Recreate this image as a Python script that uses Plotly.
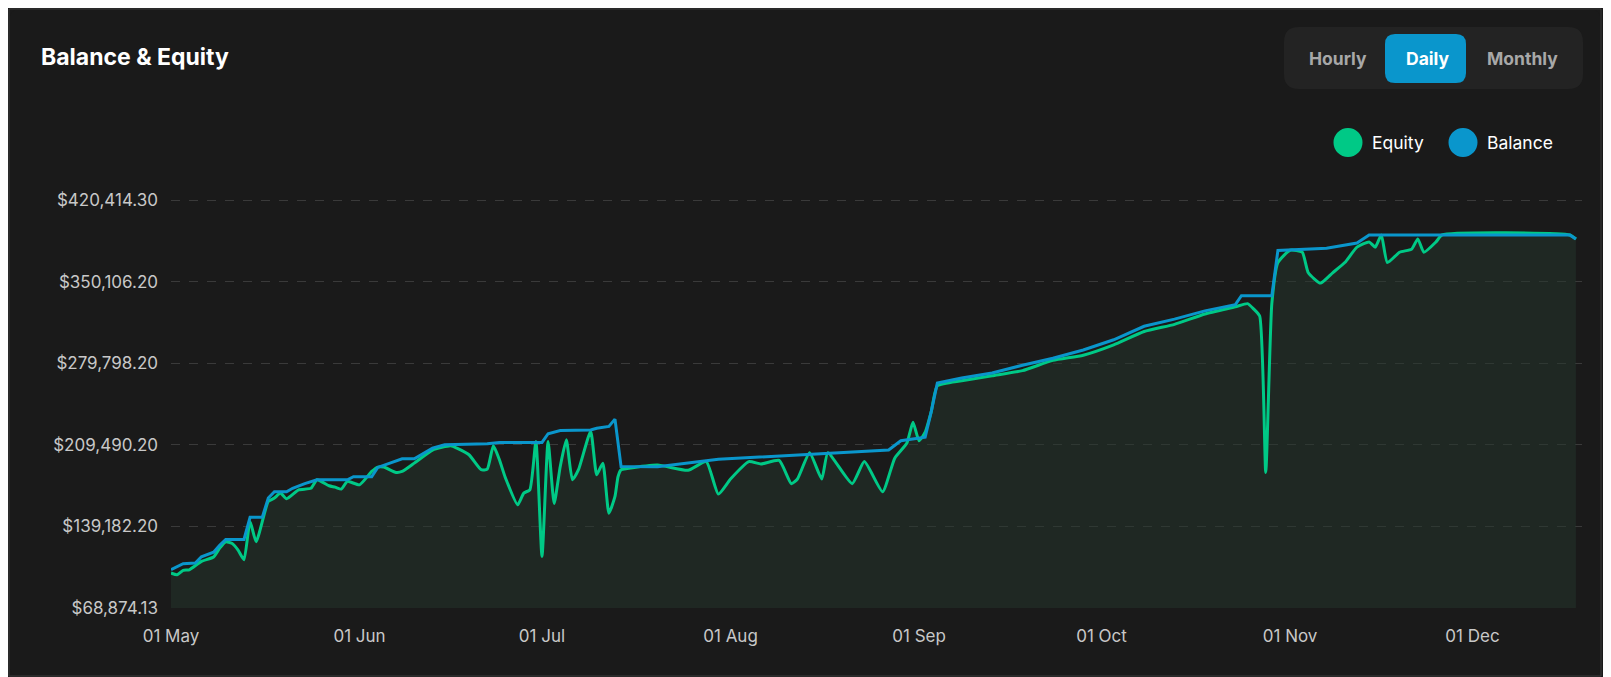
import plotly.graph_objects as go
import pandas as pd

# balance keyframes: day offset from 01 May, value
bal_days = [0, 2, 4, 5, 7, 8, 9, 12, 13, 15, 16, 17, 19, 20, 22, 24, 29, 30, 33, 34, 36, 38, 40, 43, 45,
            52, 54, 61, 62, 64, 69, 70, 72, 73, 74, 80, 90, 100, 110, 118, 120, 124, 125, 126, 130, 135,
            140, 145, 150, 155, 160, 165, 170, 175, 176, 181, 182, 190, 195, 197, 230, 231]
bal_vals = [101900, 107000, 107600, 113000, 117000, 123000, 128000, 128000, 147000, 147000, 163600,
            169000, 169000, 172000, 176000, 179400, 179400, 182000, 182000, 190000, 193700, 197400,
            197400, 206600, 209500, 210300, 211500, 211500, 219000, 221800, 222300, 223800, 225300,
            231600, 190800, 190600, 197000, 200000, 202600, 205000, 213000, 216000, 238000, 262800,
            267000, 271400, 278000, 284000, 291200, 300000, 311600, 317800, 324900, 330200, 338000,
            338000, 377000, 378800, 383300, 390300, 390300, 386800]

eq_days = [0, 1, 2, 3, 5, 7, 8, 9, 10, 11, 12, 13, 14, 16, 17, 18, 19, 21, 23, 24, 26, 27, 28, 29, 31,
           33, 34, 35, 37, 38, 40, 43, 46, 47, 49, 51, 52, 53, 54, 55, 57, 58, 59, 60, 61, 62, 63, 64,
           65, 66, 67, 69, 70, 71, 72, 73, 73.5, 74, 75, 80, 85, 88, 90, 92, 95, 97, 100, 102, 103, 105,
           107, 108, 112, 114, 117, 119, 121, 122, 123, 124, 125, 126, 130, 135, 140, 145, 150, 155,
           160, 165, 170, 175, 177, 178, 179, 180, 181, 182, 184, 186, 187, 189, 191, 193, 195, 197,
           198, 199, 200, 202, 204, 205, 206, 208, 209, 230, 231]
eq_vals = [99000, 97600, 101300, 101800, 109000, 112800, 120500, 126000, 124600, 119000, 110500,
           143500, 126000, 160700, 163600, 167900, 163000, 170700, 172000, 179400, 174200, 173000,
           171300, 178000, 175000, 186500, 190300, 190300, 185700, 186500, 193700, 205000, 208600,
           206600, 200900, 188000, 188500, 208600, 196600, 180800, 157800, 167900, 170700, 212400,
           113300, 212400, 159000, 190800, 213800, 179400, 188000, 221000, 183700, 193700, 150600,
           165000, 182000, 188000, 189000, 192000, 187500, 195000, 167000, 180000, 195000, 193000,
           196000, 176000, 180000, 202600, 180000, 202600, 176000, 195000, 169000, 198000, 211000,
           229000, 213000, 220300, 238000, 260200, 264600, 269000, 273400, 282300, 286700, 295600,
           307100, 313300, 322200, 328400, 331100, 326600, 320400, 185700, 331100, 366500, 377100,
           375400, 357700, 348800, 357700, 366500, 379800, 384300, 379800, 390300, 366500, 375400,
           378100, 386900, 375400, 384300, 390300, 390300, 386800]

y_ticks = [68874.13, 139182.20, 209490.20, 279798.20, 350106.20, 420414.30]
y_labels = ["$68,874.13", "$139,182.20", "$209,490.20", "$279,798.20", "$350,106.20", "$420,414.30"]
x_ticks = ["2024-05-01", "2024-06-01", "2024-07-01", "2024-08-01", "2024-09-01", "2024-10-01",
           "2024-11-01", "2024-12-01"]
x_labels = ["01 May", "01 Jun", "01 Jul", "01 Aug", "01 Sep", "01 Oct", "01 Nov", "01 Dec"]

start = pd.Timestamp("2024-05-01")
bal_x = [start + pd.Timedelta(days=d) for d in bal_days]
eq_x = [start + pd.Timedelta(days=d) for d in eq_days]

W, H = 1611, 677
L, R, T, B = 163, 37, 189, 77
PW, PH = W - L - R, H - T - B
Y_TOP = 420414.30 + (420414.30 - 68874.13) / (PH - 3) * 3


def px(x):
    return (x - L) / PW


def py(y):
    return 1 - (y - T) / PH


def rrect(x0, y0, x1, y1, r, color):
    a, b, c, d = px(x0), py(y0), px(x1), py(y1)
    rx, ry = r / PW, r / PH
    path = (f"M {a+rx},{b} L {c-rx},{b} Q {c},{b} {c},{b-ry} L {c},{d+ry} Q {c},{d} {c-rx},{d} "
            f"L {a+rx},{d} Q {a},{d} {a},{d+ry} L {a},{b-ry} Q {a},{b} {a+rx},{b} Z")
    return dict(type="path", xref="paper", yref="paper", path=path, fillcolor=color,
                line=dict(width=0), layer="below")


fig = go.Figure()
fig.add_trace(go.Scatter(x=eq_x, y=eq_vals, name="Equity", mode="lines",
                         line=dict(color="#00c986", width=3, shape="spline", smoothing=0.5),
                         fill="tozeroy", fillcolor="rgba(36,54,44,0.5)"))
fig.add_trace(go.Scatter(x=bal_x, y=bal_vals, name="Balance", mode="lines",
                         line=dict(color="#0a96cc", width=3)))

shapes = [
    rrect(1, 1, 1593, 668, 12, "#1a1a1a"),
    dict(type="rect", xref="paper", yref="paper", x0=px(1), x1=px(1593), y0=py(1), y1=py(668),
         line=dict(color="#3a3a3a", width=1), layer="below"),
    rrect(1276, 19, 1575, 81, 15, "#232323"),
    rrect(1377, 26, 1458, 75, 10, "#0a96cc"),
]
for cx, col in [(1340, "#00c986"), (1455, "#0a96cc")]:
    shapes.append(dict(type="circle", xref="paper", yref="paper", x0=px(cx - 14.5), x1=px(cx + 14.5),
                       y0=py(120), y1=py(149), fillcolor=col, line=dict(width=0)))

ann = [
    dict(x=px(31), y=py(49), text="<b>Balance & Equity</b>", font=dict(size=23, color="#ffffff")),
    dict(x=px(1299), y=py(50), text="<b>Hourly</b>", font=dict(size=17.5, color="#a8a8a8")),
    dict(x=px(1396), y=py(50), text="<b>Daily</b>", font=dict(size=17.5, color="#ffffff")),
    dict(x=px(1477), y=py(50), text="<b>Monthly</b>", font=dict(size=17.5, color="#a8a8a8")),
    dict(x=px(1362), y=py(135), text="Equity", font=dict(size=17.5, color="#ffffff")),
    dict(x=px(1477), y=py(135), text="Balance", font=dict(size=17.5, color="#ffffff")),
]
for a in ann:
    a.update(xref="paper", yref="paper", xanchor="left", yanchor="middle", showarrow=False)

fig.update_layout(
    width=W, height=H, margin=dict(l=L, r=R, t=T, b=B),
    paper_bgcolor="#1a1a1a", plot_bgcolor="#1a1a1a",
    font=dict(family="Inter", color="#c8c8c8", size=17),
    showlegend=False, shapes=shapes, annotations=ann,
)
fig.update_xaxes(range=["2024-05-01", "2024-12-19"], tickvals=x_ticks, ticktext=x_labels,
                 showgrid=False, zeroline=False, showline=False, ticks="", ticklabelstandoff=16)
fig.update_yaxes(range=[68874.13, Y_TOP], tickvals=y_ticks, ticktext=y_labels,
                 showgrid=True, gridcolor="#3a3a3a", griddash="dash", zeroline=False,
                 ticks="", ticklabelstandoff=12)

fig.write_html("out.html")
